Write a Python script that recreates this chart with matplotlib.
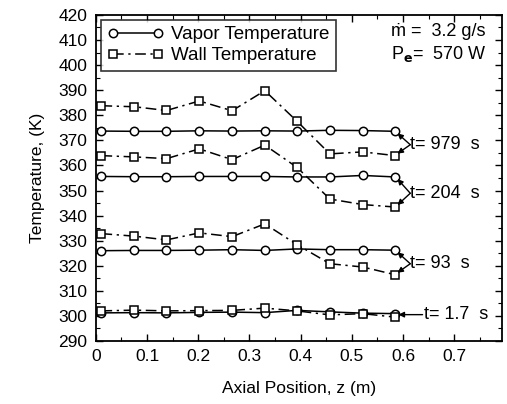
import matplotlib
matplotlib.use("Agg")
import matplotlib.pyplot as plt

plt.rcParams['font.family'] = ['Liberation Sans', 'DejaVu Sans']

z = [0.011, 0.075, 0.138, 0.202, 0.266, 0.330, 0.393, 0.457, 0.521, 0.585]

vapor_979 = [373.7, 373.6, 373.6, 373.8, 373.7, 373.8, 373.7, 374.0, 373.9, 373.6]
wall_979 = [383.8, 383.4, 381.9, 385.7, 381.8, 389.8, 377.6, 364.6, 365.4, 363.9]

vapor_204 = [355.6, 355.5, 355.5, 355.6, 355.6, 355.6, 355.4, 355.4, 356.0, 355.4]
wall_204 = [363.9, 363.4, 362.7, 366.6, 362.3, 368.1, 359.2, 346.6, 344.4, 343.4]

vapor_93 = [326.0, 326.1, 326.1, 326.2, 326.4, 326.1, 326.7, 326.4, 326.4, 326.2]
wall_93 = [332.8, 331.8, 330.3, 333.1, 331.6, 336.7, 328.4, 320.8, 319.5, 316.4]

vapor_1_7 = [301.2, 301.3, 301.2, 301.4, 301.5, 301.3, 302.2, 301.6, 301.1, 300.9]
wall_1_7 = [302.0, 302.3, 302.0, 302.1, 302.2, 303.1, 302.0, 300.4, 300.9, 299.5]

groups = [
    ("t= 979  s", vapor_979, wall_979),
    ("t= 204  s", vapor_204, wall_204),
    ("t= 93  s", vapor_93, wall_93),
]

xticks = [0, 0.1, 0.2, 0.3, 0.4, 0.5, 0.6, 0.7]
yticks = list(range(290, 421, 10))

fig = plt.figure(figsize=(5.07, 4.04), dpi=100)
ax = fig.add_axes([0.189, 0.156, 0.801, 0.807])

vap_kw = dict(color='black', lw=1.1, marker='o', ms=6, mfc='white', mec='black', mew=1.1)
wall_kw = dict(color='black', lw=1.1, marker='s', ms=6, mfc='white', mec='black', mew=1.1,
               linestyle=(0, (7, 3, 1.5, 3)))

first = True
for label, vap, wall in groups + [("t= 1.7 s", vapor_1_7, wall_1_7)]:
    ax.plot(z, vap, label='Vapor Temperature' if first else None, **vap_kw)
    ax.plot(z, wall, label='Wall Temperature' if first else None, **wall_kw)
    first = False

# annotations with two arrows
for label, vap, wall in groups:
    ty = (vap[-1] + wall[-1]) / 2.0 - 0.5
    tx = 0.614
    ax.text(tx, ty, label, fontsize=13, va='center', ha='left')
    for yy in (vap[-1], wall[-1]):
        ax.annotate('', xy=(z[-1] + 0.004, yy + (-0.8 if yy > ty else 0.8)), xytext=(tx, ty),
                    arrowprops=dict(arrowstyle='-|>', color='black', lw=1.0,
                                    mutation_scale=8, shrinkA=0, shrinkB=0))

ax.text(0.64, 300.4, "t= 1.7  s", fontsize=13, va='center', ha='left')
ax.annotate('', xy=(z[-1] + 0.006, 300.5), xytext=(0.638, 300.5),
            arrowprops=dict(arrowstyle='-|>', color='black', lw=1.0,
                            mutation_scale=8, shrinkA=0, shrinkB=0))

ax.text(0.577, 413.5, "\u1e41 =  3.2 g/s", fontsize=13, va='center', ha='left')
ax.text(0.577, 404.5, r"P$_{\mathbf{e}}$=  570 W", fontsize=13, va='center', ha='left')

ax.set_xlim(0, 0.793)
ax.set_ylim(290, 420)
ax.set_xticks(xticks)
ax.set_xticklabels(['0' if v == 0 else f"{v:.1f}" for v in xticks])
ax.set_yticks(yticks)
ax.set_xticks([0.05 + 0.1 * i for i in range(8)], minor=True)
ax.set_yticks([295 + 10 * i for i in range(13)], minor=True)
ax.tick_params(which='both', direction='in', top=True, right=True, labelsize=12.5)
ax.tick_params(which='major', length=5, width=1)
ax.tick_params(which='minor', length=3, width=0.8)
ax.tick_params(axis='x', pad=6)
ax.tick_params(axis='y', pad=6)
for s in ax.spines.values():
    s.set_linewidth(1.3)

ax.set_xlabel("Axial Position, z (m)", fontsize=12.5, labelpad=12)
ax.set_ylabel("Temperature, (K)", fontsize=12.5, labelpad=10)

leg = ax.legend(loc='upper left', numpoints=2, fontsize=13.5, frameon=True, fancybox=False,
                edgecolor='black', borderaxespad=0.25, handlelength=3.0, handletextpad=0.4,
                borderpad=0.35, labelspacing=0.2)
leg.get_frame().set_linewidth(1.2)

fig.savefig("out.png", dpi=100)
